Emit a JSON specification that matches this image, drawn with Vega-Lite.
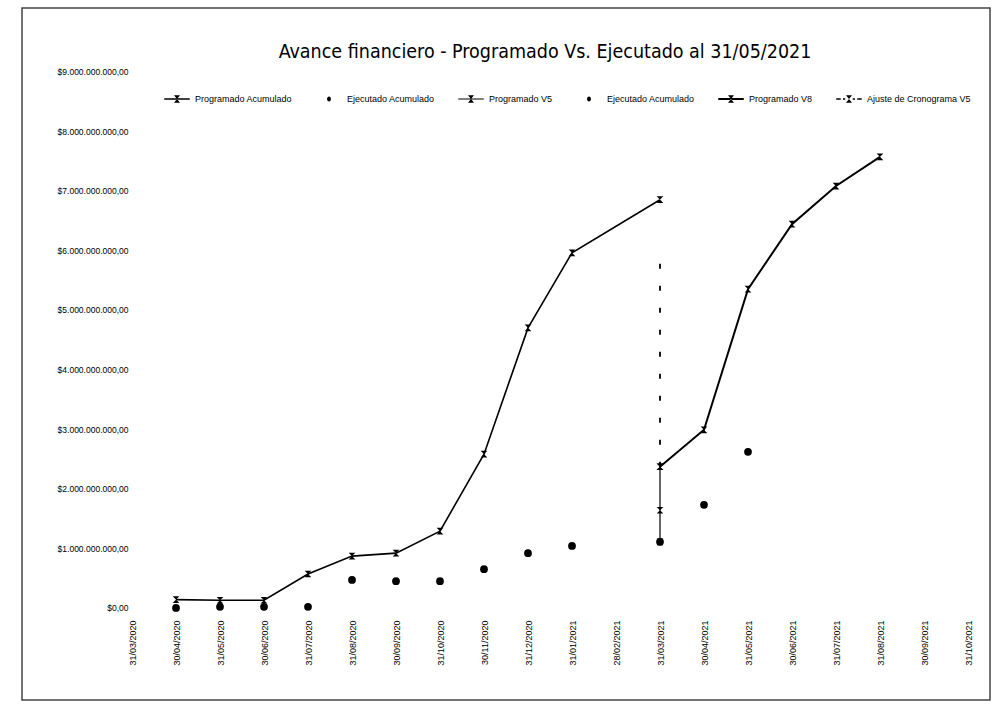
{
  "$schema": "https://vega.github.io/schema/vega-lite/v6.json",
  "width": 968,
  "height": 692,
  "autosize": {"type": "none"},
  "padding": {"left": 22, "top": 8, "right": 6, "bottom": 8},
  "background": "white",
  "config": {
    "view": {"stroke": "#444", "strokeWidth": 1.5},
    "axis": {"grid": false, "domain": false, "ticks": false, "tickSize": 0, "labelColor": "black", "labelFont": "Liberation Sans", "title": null}
  },
  "title": {
    "text": "Avance financiero - Programado Vs. Ejecutado al 31/05/2021",
    "font": "DejaVu Sans Condensed, sans-serif",
    "fontSize": 19.5,
    "fontWeight": "normal",
    "color": "black",
    "anchor": "middle",
    "offset": -54,
    "dx": 39
  },
  "datasets": {
    "d": [
      {"s": "PA", "i": 1, "v": 140000000, "o": 1},
      {"s": "PA", "i": 2, "v": 130000000, "o": 2},
      {"s": "PA", "i": 3, "v": 130000000, "o": 3},
      {"s": "PA", "i": 4, "v": 570000000, "o": 4},
      {"s": "PA", "i": 5, "v": 870000000, "o": 5},
      {"s": "PA", "i": 6, "v": 920000000, "o": 6},
      {"s": "PA", "i": 7, "v": 1290000000, "o": 7},
      {"s": "PA", "i": 8, "v": 2580000000, "o": 8},
      {"s": "PA", "i": 9, "v": 4700000000, "o": 9},
      {"s": "PA", "i": 10, "v": 5960000000, "o": 10},
      {"s": "PA", "i": 12, "v": 6850000000, "o": 11},
      {"s": "EA1", "i": 1, "v": 0, "o": 1},
      {"s": "EA1", "i": 2, "v": 20000000, "o": 2},
      {"s": "EA1", "i": 3, "v": 20000000, "o": 3},
      {"s": "EA1", "i": 4, "v": 20000000, "o": 4},
      {"s": "EA1", "i": 5, "v": 470000000, "o": 5},
      {"s": "EA1", "i": 6, "v": 450000000, "o": 6},
      {"s": "EA1", "i": 7, "v": 450000000, "o": 7},
      {"s": "EA1", "i": 8, "v": 650000000, "o": 8},
      {"s": "EA1", "i": 9, "v": 920000000, "o": 9},
      {"s": "EA1", "i": 10, "v": 1040000000, "o": 10},
      {"s": "EA1", "i": 12, "v": 1110000000, "o": 11},
      {"s": "V5", "i": 12, "v": 1110000000, "o": 1},
      {"s": "V5", "i": 12, "v": 1640000000, "o": 2},
      {"s": "V5", "i": 12, "v": 2370000000, "o": 3},
      {"s": "EA2", "i": 13, "v": 1730000000, "o": 1},
      {"s": "EA2", "i": 14, "v": 2620000000, "o": 2},
      {"s": "V8", "i": 12, "v": 2370000000, "o": 1},
      {"s": "V8", "i": 13, "v": 2990000000, "o": 2},
      {"s": "V8", "i": 14, "v": 5350000000, "o": 3},
      {"s": "V8", "i": 15, "v": 6440000000, "o": 4},
      {"s": "V8", "i": 16, "v": 7080000000, "o": 5},
      {"s": "V8", "i": 17, "v": 7570000000, "o": 6},
      {"s": "AJ", "i": 12, "v": 2370000000, "o": 1},
      {"s": "AJ", "i": 12, "v": 6000000000, "o": 2}
    ],
    "leg": [
      {"name": "Programado Acumulado", "i": 100, "v": 0},
      {"name": "Ejecutado Acumulado", "i": 100, "v": 0},
      {"name": "Programado V5", "i": 100, "v": 0},
      {"name": "Ejecutado Acumulado ", "i": 100, "v": 0},
      {"name": "Programado V8", "i": 100, "v": 0},
      {"name": "Ajuste de Cronograma V5", "i": 100, "v": 0}
    ]
  },
  "encoding": {
    "x": {
      "field": "i",
      "type": "quantitative",
      "scale": {"domain": [-2.5, 19.5], "nice": false, "zero": false},
      "axis": {
        "values": [0, 1, 2, 3, 4, 5, 6, 7, 8, 9, 10, 11, 12, 13, 14, 15, 16, 17, 18, 19],
        "offset": -92,
        "labelAngle": -90,
        "labelPadding": 12,
        "labelFontSize": 9,
        "labelExpr": "['31/03/2020','30/04/2020','31/05/2020','30/06/2020','31/07/2020','31/08/2020','30/09/2020','31/10/2020','30/11/2020','31/12/2020','31/01/2021','28/02/2021','31/03/2021','30/04/2021','31/05/2021','30/06/2021','31/07/2021','31/08/2021','30/09/2021','31/10/2021'][datum.value]"
      }
    },
    "y": {
      "field": "v",
      "type": "quantitative",
      "scale": {"domain": [-1544000000, 10067000000], "nice": false, "zero": false},
      "axis": {
        "values": [0, 1000000000, 2000000000, 3000000000, 4000000000, 5000000000, 6000000000, 7000000000, 8000000000, 9000000000],
        "offset": -110,
        "labelPadding": 4,
        "labelFontSize": 8.5,
        "labelExpr": "datum.value == 0 ? '$0,00' : '$' + format(datum.value / 1000000000, 'd') + '.000.000.000,00'"
      }
    }
  },
  "layer": [
    {
      "data": {"name": "d"},
      "transform": [{"filter": "datum.s == 'PA'"}],
      "mark": {"type": "line", "color": "black", "strokeWidth": 1.6},
      "encoding": {"order": {"field": "o", "type": "quantitative"}}
    },
    {
      "data": {"name": "d"},
      "transform": [{"filter": "datum.s == 'V5'"}],
      "mark": {"type": "line", "color": "black", "strokeWidth": 1.2},
      "encoding": {"order": {"field": "o", "type": "quantitative"}}
    },
    {
      "data": {"name": "d"},
      "transform": [{"filter": "datum.s == 'AJ'"}],
      "mark": {"type": "line", "color": "black", "strokeWidth": 1.8, "strokeDash": [5, 17]},
      "encoding": {"order": {"field": "o", "type": "quantitative"}}
    },
    {
      "data": {"name": "d"},
      "transform": [{"filter": "datum.s == 'V8'"}],
      "mark": {"type": "line", "color": "black", "strokeWidth": 2},
      "encoding": {"order": {"field": "o", "type": "quantitative"}}
    },
    {
      "data": {"name": "d"},
      "transform": [{"filter": "datum.s == 'PA' || datum.s == 'V8' || datum.s == 'V5'"}],
      "mark": {"type": "point", "shape": "M-1,-1H1L-1,1H1Z", "filled": true, "color": "black", "size": 45, "opacity": 1}
    },
    {
      "data": {"name": "d"},
      "transform": [{"filter": "datum.s == 'EA1' || datum.s == 'EA2'"}],
      "mark": {"type": "point", "shape": "circle", "filled": true, "color": "black", "size": 60, "opacity": 1}
    },
    {
      "data": {"name": "leg"},
      "mark": {"type": "point", "filled": true, "color": "black", "opacity": 1, "clip": true},
      "encoding": {
        "shape": {
          "field": "name",
          "type": "nominal",
          "scale": {
            "domain": ["Programado Acumulado", "Ejecutado Acumulado", "Programado V5", "Ejecutado Acumulado ", "Programado V8", "Ajuste de Cronograma V5"],
            "range": [
              "M-0.85,-0.045H0.85V0.045H-0.85ZM-0.2,-0.25H0.2L-0.2,0.25H0.2Z",
              "M-0.13,0A0.13,0.16 0 1,0 0.13,0A0.13,0.16 0 1,0 -0.13,0Z",
              "M-0.85,-0.035H0.85V0.035H-0.85ZM-0.2,-0.25H0.2L-0.2,0.25H0.2Z",
              "M-0.13,0A0.13,0.16 0 1,0 0.13,0A0.13,0.16 0 1,0 -0.13,0Z",
              "M-0.85,-0.06H0.85V0.06H-0.85ZM-0.2,-0.25H0.2L-0.2,0.25H0.2Z",
              "M-0.85,-0.05H-0.55V0.05H-0.85ZM-0.4,-0.05H-0.25V0.05H-0.4ZM0.25,-0.05H0.4V0.05H0.25ZM0.55,-0.05H0.85V0.05H0.55ZM-0.2,-0.25H0.2L-0.2,0.25H0.2Z"
            ]
          },
          "legend": {
            "orient": "none",
            "legendX": 140,
            "legendY": 76,
            "direction": "horizontal",
            "title": null,
            "padding": 0,
            "symbolSize": 900,
            "symbolFillColor": "black",
            "symbolStrokeColor": "black",
            "symbolStrokeWidth": 0,
            "symbolOpacity": 1,
            "labelFontSize": 9,
            "labelFont": "Liberation Sans",
            "labelColor": "black",
            "labelOffset": 3,
            "columnPadding": 21,
            "labelLimit": 0
          }
        }
      }
    }
  ]
}
